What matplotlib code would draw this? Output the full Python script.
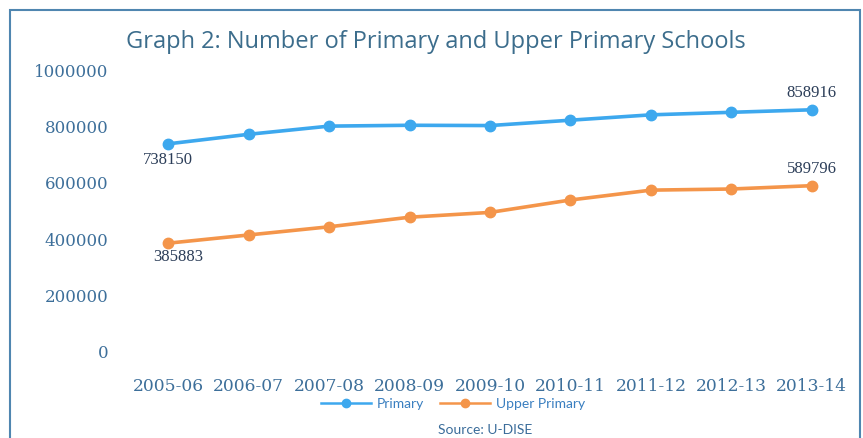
import matplotlib

matplotlib.use("Agg")
import matplotlib.pyplot as plt
from matplotlib.patches import Rectangle

years = ["2005-06", "2006-07", "2007-08", "2008-09", "2009-10",
         "2010-11", "2011-12", "2012-13", "2013-14"]
primary = [738150, 772000, 801000, 804000, 803000, 822000, 841000, 850000, 858916]
upper_primary = [385883, 415000, 444000, 478000, 495000, 539000, 574000, 578000, 589796]
y_ticks = [0, 200000, 400000, 600000, 800000, 1000000]

BLUE = "#3da8ee"
ORANGE = "#f4954a"
TICK_COLOR = "#3d6f9a"
LABEL_COLOR = "#2b3d58"

fig = plt.figure(figsize=(8.63, 4.38), dpi=100)
fig.patch.set_facecolor("white")

# outer chart frame
fig.patches.append(Rectangle((10 / 863, -0.01), 850 / 863, 1 - 10 / 438 + 0.01,
                             transform=fig.transFigure, fill=False,
                             edgecolor="#4f86b0", linewidth=1.5))

ax = fig.add_axes([128 / 863, 86 / 438, 724 / 863, 282 / 438])
x = range(len(years))

ax.plot(x, primary, color=BLUE, linewidth=2.6, marker="o", markersize=7.5,
        label="Primary")
ax.plot(x, upper_primary, color=ORANGE, linewidth=2.6, marker="o", markersize=7.5,
        label="Upper Primary")

ax.set_xlim(-0.5, len(years) - 0.5)
ax.set_ylim(0, 1000000)
ax.set_yticks(y_ticks)
ax.set_yticklabels([str(v) for v in y_ticks], family="DejaVu Serif",
                   fontsize=12, color=TICK_COLOR)
ax.set_xticks(list(x))
ax.set_xticklabels(years, family="DejaVu Serif", fontsize=12.3,
                   color=TICK_COLOR)
ax.tick_params(axis="both", length=0)
ax.tick_params(axis="y", pad=14)
ax.tick_params(axis="x", pad=19)
for s in ax.spines.values():
    s.set_visible(False)

# data labels on first and last points
lbl = dict(family="Liberation Serif", fontsize=12, color=LABEL_COLOR)
ax.annotate(str(primary[0]), (0, primary[0]), xytext=(0, -6),
            textcoords="offset points", ha="center", va="top", **lbl)
ax.annotate(str(primary[-1]), (len(years) - 1, primary[-1]), xytext=(0, 6),
            textcoords="offset points", ha="center", va="bottom", **lbl)
ax.annotate(str(upper_primary[0]), (0, upper_primary[0]), xytext=(7, -4),
            textcoords="offset points", ha="center", va="top", **lbl)
ax.annotate(str(upper_primary[-1]), (len(years) - 1, upper_primary[-1]), xytext=(0, 6),
            textcoords="offset points", ha="center", va="bottom", **lbl)

fig.text(436 / 863, 1 - 42 / 438, "Graph 2: Number of Primary and Upper Primary Schools",
         ha="center", va="center", family="Open Sans", fontsize=17, color="#3c6d8c")

leg = fig.legend(loc="center", bbox_to_anchor=(453 / 863, 1 - 404 / 438), ncol=2,
                 frameon=False, handlelength=3.6, columnspacing=1.2,
                 handletextpad=0.4, markerscale=0.8,
                 prop={"family": "Lato", "size": 10})
for h in leg.legend_handles:
    h.set_linewidth(1.8)
for t in leg.get_texts():
    t.set_color("#3a7fc0")

fig.text(485 / 863, 1 - 430 / 438, "Source: U-DISE", ha="center", va="center",
         family="Lato", fontsize=10, color="#3a6c9a")

fig.savefig("out.png", dpi=100)
